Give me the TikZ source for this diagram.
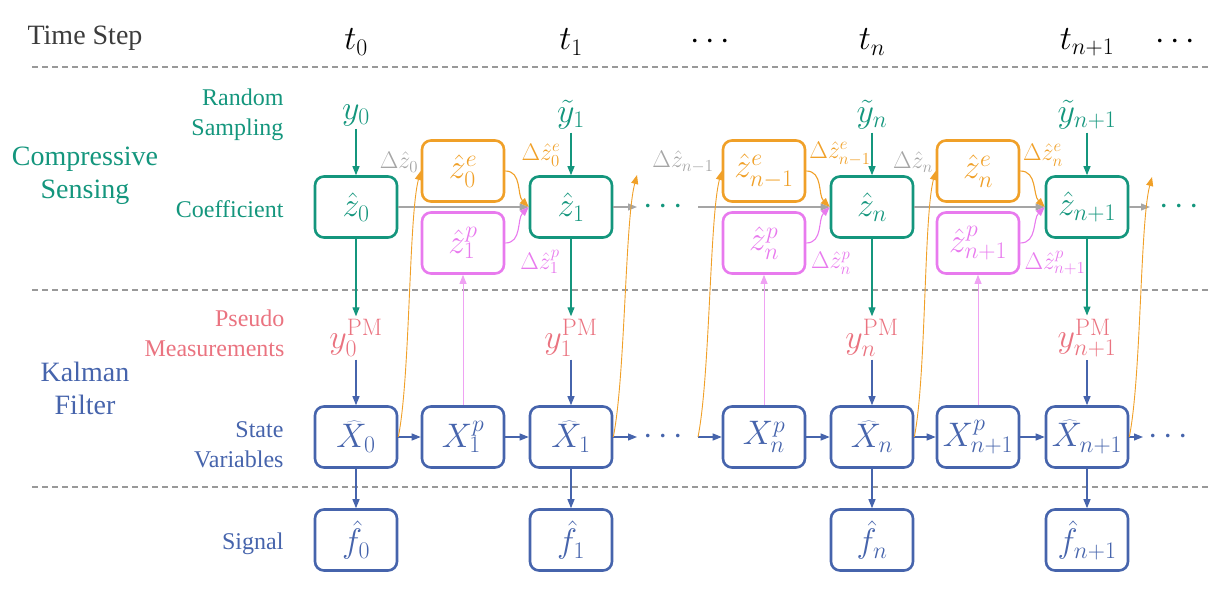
\documentclass[tikz,border=0pt]{standalone}
\usepackage{fix-cm}
\usepackage[no-math]{fontspec}
\setmainfont{Liberation Serif}
\usetikzlibrary{arrows.meta}
\definecolor{csgreen}{RGB}{20,150,125}
\definecolor{estorange}{RGB}{240,160,40}
\definecolor{predviolet}{RGB}{232,122,238}
\definecolor{pmred}{RGB}{234,115,128}
\definecolor{kfblue}{RGB}{70,100,172}
\definecolor{deltagray}{RGB}{165,165,165}
\definecolor{stepgray}{RGB}{60,60,60}
\newcommand{\boxfont}{\fontsize{34}{40}\selectfont}
\newcommand{\deltafont}{\fontsize{24}{28}\selectfont}
\begin{document}
\begin{tikzpicture}
[x=1pt,y=1pt,
  boxdecorate/.style={shape=rectangle,rounded corners=9pt,line width=2.6pt,
    minimum width=82pt,minimum height=61pt,inner sep=0pt,font=\boxfont},%
  csbox/.style={boxdecorate,draw=csgreen,text=csgreen},%
  estbox/.style={boxdecorate,draw=estorange,text=estorange},%
  predbox/.style={boxdecorate,draw=predviolet,text=predviolet},%
  kfbox/.style={boxdecorate,draw=kfblue,text=kfblue},%
  linedecorate/.style={-{Triangle[length=9pt,width=7pt]},line width=1.1pt},%
  csline/.style={linedecorate,draw=csgreen},%
  kfline/.style={linedecorate,draw=kfblue},%
  grayline/.style={linedecorate,draw=deltagray},%
  estline/.style={linedecorate,draw=estorange},%
  predline/.style={linedecorate,draw=predviolet},%
  mathlabel/.style={font=\boxfont,inner sep=3pt},%
  deltalabel/.style={font=\deltafont,inner sep=0pt},%
  rowlabel/.style={font=\fontsize{24}{30}\selectfont,align=right,anchor=east},%
  grouplabel/.style={font=\fontsize{28}{33}\selectfont,align=center},%
  separator/.style={draw=gray!80,line width=1.2pt,dash pattern=on 6pt off 4pt}]
\useasboundingbox (0,0) rectangle (1224,590);
%% separators
\foreach \y in {523,300,103}
  \draw[separator] (32,\y) -- (1210,\y);
%% row and group labels
\node[grouplabel,text=stepgray] (timestep) at (85,552) {Time Step};
\node[grouplabel,text=csgreen] (cs) at (85,414) {Compressive\\Sensing};
\node[grouplabel,text=kfblue] (kf) at (85,202) {Kalman\\Filter};
\node[rowlabel,text=csgreen] (sampling) at (287,475) {Random\\Sampling};
\node[rowlabel,text=csgreen] (coeff) at (287,381) {Coefficient};
\node[rowlabel,text=pmred] (pseudo) at (288,257) {Pseudo\\Measurements};
\node[rowlabel,text=kfblue] (state) at (287,145) {State\\Variables};
\node[rowlabel,text=kfblue] (signal) at (287,46) {Signal};
%% time steps
\foreach \nodename/\x/\entry in {t0/356/{t_0}, t1/571/{t_1}, tdots/710/{\cdots},
  tn/872/{t_n}, tn1/1087/{t_{n+1}}, tend/1175/{\cdots}}
  \node[mathlabel,text=black] (\nodename) at (\x,548) {$\entry$};
%% sampled measurements and pseudo measurements
\foreach \nodename/\x/\entry in {0/356/{y_0}, 1/571/{\tilde y_1},
  n/872/{\tilde y_n}, n1/1087/{\tilde y_{n+1}}}
  \node[mathlabel,text=csgreen] (ylab\nodename) at (\x,475) {$\entry$};
\foreach \nodename/\x/\entry in {0/356/{0}, 1/571/{1}, n/872/{n}, n1/1087/{n+1}}
  \node[mathlabel,text=pmred] (pm\nodename) at (\x,252) {$y_{\entry}^{\mathrm{PM}}$};
%% coefficient boxes
\foreach \nodename/\x/\entry in {z0/356/{\hat z_0}, z1/571/{\hat z_1},
  zn/872/{\hat z_n}, zn1/1087/{\hat z_{n+1}}}
  \node[csbox] (\nodename) at (\x,383) {$\entry$};
\foreach \nodename/\x/\entry in {ze0/463/{\hat z_0^e}, zen1/764/{\hat z_{n-1}^e},
  zen/978/{\hat z_n^e}}
  \node[estbox] (\nodename) at (\x,419) {$\entry$};
\foreach \nodename/\x/\entry in {zp1/463/{\hat z_1^p}, zpn/764/{\hat z_n^p},
  zpn1/978/{\hat z_{n+1}^p}}
  \node[predbox] (\nodename) at (\x,347) {$\entry$};
%% state and signal boxes
\foreach \nodename/\x/\entry in {X0/356/{\widehat X_0}, Xp1/463/{X_1^p},
  X1/571/{\widehat X_1}, Xpn/764/{X_n^p}, Xn/872/{\widehat X_n},
  Xpn1/978/{X_{n+1}^p}, Xn1/1087/{\widehat X_{n+1}}}
  \node[kfbox] (\nodename) at (\x,153) {$\entry$};
\foreach \nodename/\x/\entry in {f0/356/{\hat f_0}, f1/571/{\hat f_1},
  fn/872/{\hat f_n}, fn1/1087/{\hat f_{n+1}}}
  \node[kfbox] (\nodename) at (\x,50) {$\entry$};
%% dots and free ends
\node[mathlabel,text=csgreen] (zdots) at (663,383) {$\cdots$};
\node[mathlabel,text=csgreen] (zend) at (1179,383) {$\cdots$};
\node[mathlabel,text=kfblue] (xdots) at (663,153) {$\cdots$};
\node[mathlabel,text=kfblue] (xend) at (1168,153) {$\cdots$};
\coordinate (gz1) at (637,383);
\coordinate (gzs) at (698,383);
\coordinate (gzend) at (1150,383);
\coordinate (bx1) at (637,153);
\coordinate (bxs) at (698,153);
\coordinate (bxend) at (1143,153);
\coordinate (oc1) at (637,415);
\coordinate (ocend) at (1152,413);
%% delta labels
\node[deltalabel,text=deltagray] (dz0) at (399,428) {$\Delta\hat z_0$};
\node[deltalabel,text=estorange] (dze0) at (541,435) {$\Delta\hat z_0^e$};
\node[deltalabel,text=predviolet] (dzp1) at (540,328) {$\Delta\hat z_1^p$};
\node[deltalabel,text=deltagray] (dzn1) at (683,428) {$\Delta\hat z_{n-1}$};
\node[deltalabel,text=estorange] (dzen1) at (840,436) {$\Delta\hat z_{n-1}^e$};
\node[deltalabel,text=predviolet] (dzpn) at (831,327) {$\Delta\hat z_n^p$};
\node[deltalabel,text=deltagray] (dzn) at (913,428) {$\Delta\hat z_n$};
\node[deltalabel,text=estorange] (dzen) at (1043,435) {$\Delta\hat z_n^e$};
\node[deltalabel,text=predviolet] (dzpn1) at (1055,327) {$\Delta\hat z_{n+1}^p$};
%% vertical connectors
\path
\foreach \col in {0,1,n,n1} {
  (ylab\col) edge[csline] (z\col)
  (z\col) edge[csline] (pm\col)
  (pm\col) edge[kfline] (X\col)
  (X\col) edge[kfline] (f\col)
};
\path
\foreach \startnode/\endnode in {Xp1/zp1, Xpn/zpn, Xpn1/zpn1} {
  (\startnode) edge[predline,line width=0.9pt,draw=predviolet!70] (\endnode)
};
%% horizontal connectors
\path
\foreach \startnode/\endnode in {z0/z1, z1/gz1, gzs/zn, zn/zn1, zn1/gzend} {
  (\startnode) edge[grayline] (\endnode)
};
\path
\foreach \startnode/\endnode in {X0/Xp1, Xp1/X1, X1/bx1, bxs/Xpn, Xpn/Xn,
  Xn/Xpn1, Xpn1/Xn1, Xn1/bxend} {
  (\startnode) edge[kfline] (\endnode)
};
%% corrections into the coefficient
\path
\foreach \startnode/\endnode in {ze0/z1, zen1/zn, zen/zn1} {
  (\startnode.east) edge[estline,out=0,in=135] (\endnode.west)
};
\path
\foreach \startnode/\endnode in {zp1/z1, zpn/zn, zpn1/zn1} {
  (\startnode.east) edge[predline,out=0,in=-135] (\endnode.west)
};
%% state back to the estimate
\path
\foreach \startnode/\endnode in {X0.east/ze0.west, X1.east/oc1, bxs/zen1.west,
  Xn.east/zen.west, Xn1.east/ocend} {
  (\startnode) edge[estline,line width=0.9pt,
    to path={.. controls +(12,60) and +(-12,-45) .. (\tikztotarget)}] (\endnode)
};
\end{tikzpicture}
\end{document}
